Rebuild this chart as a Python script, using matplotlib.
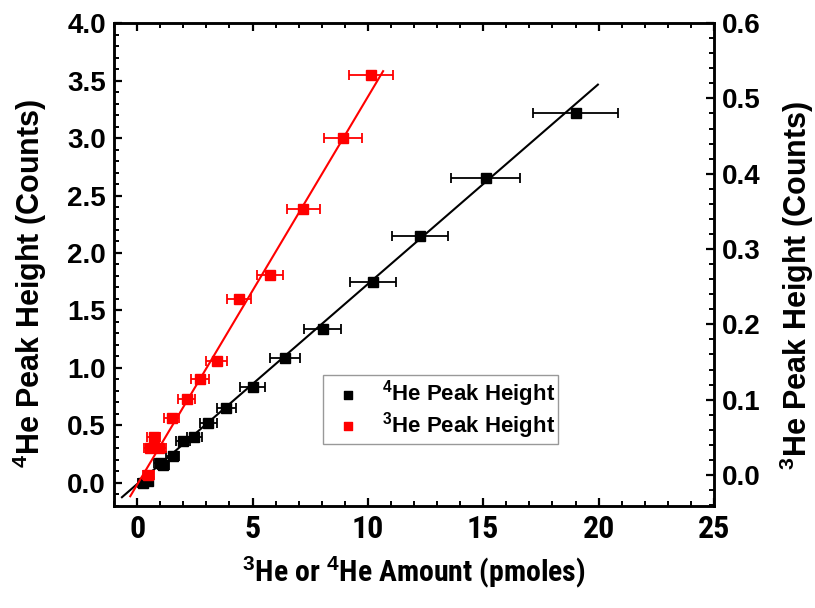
import numpy as np
import matplotlib
matplotlib.use('Agg')
import matplotlib.pyplot as plt
from matplotlib.ticker import MultipleLocator
from matplotlib import font_manager

# 4He data (left axis)
he4_amount = [19.0, 15.1, 12.26, 10.23, 8.04, 6.41, 5.0, 3.86, 3.09, 2.48, 2.0, 1.55, 1.14, 1.0, 0.45, 0.27]
he4_height = [3.22, 2.65, 2.148, 1.748, 1.336, 1.084, 0.835, 0.655, 0.52, 0.40, 0.36, 0.235, 0.157, 0.17, 0.02, 0.0]
he4_xerr = [1.86, 1.5, 1.2, 1.0, 0.8, 0.65, 0.53, 0.42, 0.36, 0.33, 0.3, 0.28, 0.25, 0.25, 0.22, 0.22]

# 3He data (right axis)
he3_amount = [10.13, 8.91, 7.2, 5.76, 4.42, 3.45, 2.72, 2.15, 1.5, 0.71, 0.56, 0.95, 0.49]
he3_height = [0.531, 0.4478, 0.353, 0.2655, 0.2336, 0.151, 0.127, 0.1005, 0.076, 0.0508, 0.0354, 0.0354, 0.0]
he3_xerr = [0.94, 0.82, 0.72, 0.58, 0.53, 0.45, 0.4, 0.37, 0.33, 0.3, 0.28, 0.28, 0.25]

# linear fits: slope, intercept, x range
he4_fit = (0.174, -0.01, -0.66, 19.97)
he3_fit = (0.0515, -0.0128, -0.3, 10.66)

plt.rcParams['font.family'] = ['Liberation Sans', 'DejaVu Sans']
plt.rcParams['font.weight'] = 'bold'
plt.rcParams['axes.linewidth'] = 1.8
plt.rcParams['mathtext.fontset'] = 'custom'
plt.rcParams['mathtext.bf'] = 'Liberation Sans:bold'
plt.rcParams['mathtext.rm'] = 'Liberation Sans:bold'

# pick a condensed family that has a bold face (x axis text looks like Arial Narrow Bold)
prefs = ['Archivo Narrow', 'Roboto Condensed', 'Fira Sans Condensed', 'Encode Sans Condensed',
         'Barlow Semi Condensed', 'Asap Condensed', 'Cabin Condensed', 'Barlow Condensed']
bold_fams = {f.name for f in font_manager.fontManager.ttflist
             if (isinstance(f.weight, int) and f.weight >= 600) or f.weight in ('bold', 'semibold', 'heavy', 'black')}
narrow_name = next((p for p in prefs if p in bold_fams), 'Liberation Sans')
narrow = [narrow_name, 'Liberation Sans', 'DejaVu Sans']

fig = plt.figure(figsize=(8.15, 6.08), dpi=100)
ax = fig.add_axes([0.140, 0.168, 0.736, 0.794])
ax2 = ax.twinx()

m4, b4, x4a, x4b = he4_fit
xf = np.array([x4a, x4b])
ax.plot(xf, m4*xf + b4, color='k', lw=1.5, zorder=2)
ax.errorbar(he4_amount, he4_height, xerr=he4_xerr, fmt='s', color='k', ms=6.5,
            elinewidth=1.3, capsize=3.6, capthick=1.3, zorder=3)

m3, b3, x3a, x3b = he3_fit
xf = np.array([x3a, x3b])
ax2.plot(xf, m3*xf + b3, color='#ff0000', lw=1.5, zorder=2)
ax2.errorbar(he3_amount, he3_height, xerr=he3_xerr, fmt='s', color='#ff0000', ms=6.5,
             elinewidth=1.3, capsize=3.6, capthick=1.3, zorder=3)

ax.set_xlim(-1, 25)
ax.set_ylim(-0.2, 4.0)
ax2.set_ylim(-0.041, 0.6)

ax.xaxis.set_major_locator(MultipleLocator(5))
ax.xaxis.set_minor_locator(MultipleLocator(1))
ax.yaxis.set_major_locator(MultipleLocator(0.5))
ax.yaxis.set_minor_locator(MultipleLocator(0.1))
ax2.yaxis.set_major_locator(MultipleLocator(0.1))
ax2.yaxis.set_minor_locator(MultipleLocator(0.02))
ax.yaxis.set_major_formatter(plt.FormatStrFormatter('%.1f'))
ax2.yaxis.set_major_formatter(plt.FormatStrFormatter('%.1f'))

ax.tick_params(axis='x', which='both', direction='in', top=True, labelsize=23, pad=6)
ax.tick_params(axis='y', which='both', direction='in', right=False, labelsize=20, pad=6)
ax2.tick_params(axis='y', which='both', direction='in', labelsize=20, pad=6)
for a in (ax, ax2):
    a.tick_params(which='major', length=6, width=1.6)
    a.tick_params(which='minor', length=3.5, width=1.4)

for lab in ax.get_xticklabels():
    lab.set_family(narrow)
    lab.set_fontweight('bold')

ax.set_xlabel(r'$^{\mathbf{3}}$He or $^{\mathbf{4}}$He Amount (pmoles)', fontsize=21.5,
              family=narrow, fontweight='bold', labelpad=8)
ax.set_ylabel(r'$^{\mathbf{4}}$He Peak Height (Counts)', fontsize=22, fontweight='bold')
ax2.set_ylabel(r'$^{\mathbf{3}}$He Peak Height (Counts)', fontsize=22, fontweight='bold')
ax.yaxis.set_label_coords(-0.108, 0.462)
ax2.yaxis.set_label_coords(1.107, 0.456)

h4 = ax.scatter([], [], marker='s', color='k', s=40)
h3 = ax.scatter([], [], marker='s', color='#ff0000', s=40)
leg = ax.legend([h4, h3], [r'$^{\mathbf{4}}$He Peak Height', r'$^{\mathbf{3}}$He Peak Height'],
                loc='lower left', bbox_to_anchor=(0.348, 0.128),
                prop={'weight': 'bold', 'size': 16},
                frameon=True, fancybox=False, edgecolor='#808080', handletextpad=0.5,
                borderpad=0.15, labelspacing=0.02, borderaxespad=0)
leg.get_frame().set_linewidth(1.0)

fig.savefig('out.png', dpi=100)
